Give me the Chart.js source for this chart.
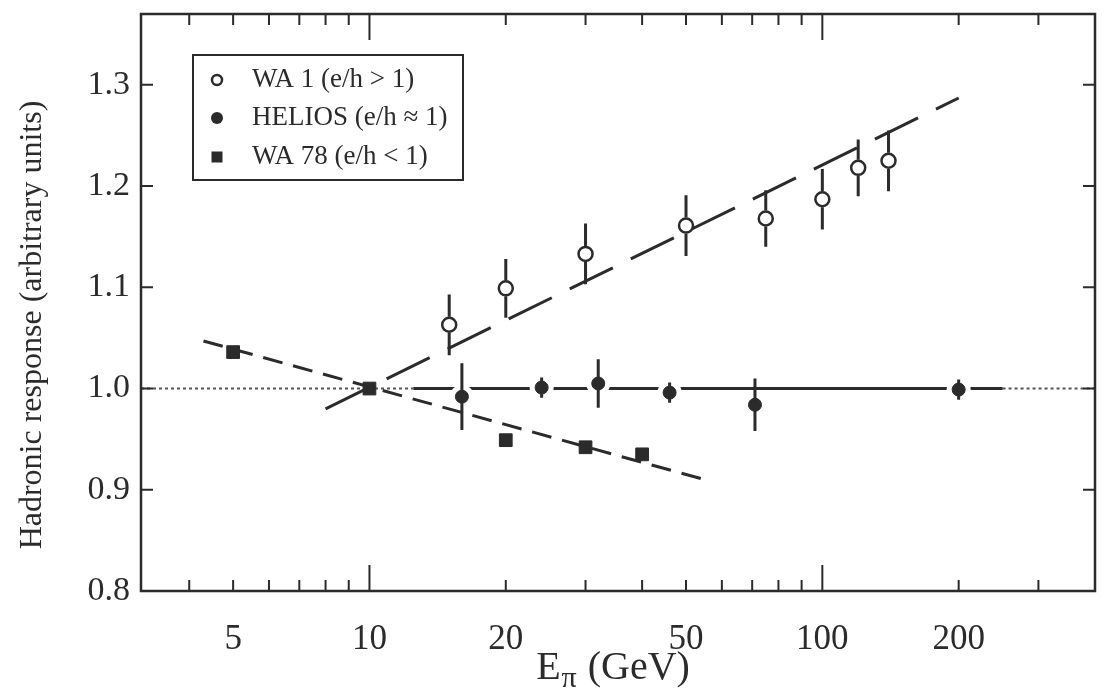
<!DOCTYPE html>
<html>
<head>
<meta charset="utf-8">
<title>Hadronic response vs pion energy</title>
<script src="https://cdn.jsdelivr.net/npm/chart.js@4.4.1/dist/chart.umd.min.js"></script>
<style>
  html, body { margin: 0; padding: 0; background: #fff; }
  #wrap { width: 1107px; height: 688px; }
</style>
</head>
<body>
<div id="wrap"><canvas id="responseChart" width="1107" height="688"></canvas></div>
<script>
// WA 1 (e/h > 1) - open circles
const wa1Energy = [15, 20, 30, 50, 75, 100, 120, 140];
const wa1Response = [1.063, 1.099, 1.133, 1.161, 1.168, 1.187, 1.218, 1.225];
const wa1Error = [0.03, 0.029, 0.03, 0.03, 0.028, 0.03, 0.028, 0.03];

// HELIOS (e/h ~ 1) - filled circles
const heliosEnergy = [16, 24, 32, 46, 71, 200];
const heliosResponse = [0.992, 1.001, 1.005, 0.996, 0.984, 0.999];
const heliosError = [0.033, 0.01, 0.024, 0.01, 0.026, 0.01];

// WA 78 (e/h < 1) - filled squares
const wa78Energy = [5, 10, 20, 30, 40];
const wa78Response = [1.036, 1.0, 0.949, 0.942, 0.935];

// fitted lines, end points
const wa1FitEnergy = [8, 200];
const wa1FitResponse = [0.98, 1.287];
const wa78FitEnergy = [4.3, 55];
const wa78FitResponse = [1.047, 0.91];
const heliosFitEnergy = [12.5, 250];
const heliosFitResponse = [1.0, 1.0];

// e/h = 1 reference (dotted outside the HELIOS fit)
const refEnergy = [3.13, 12.5, 50, 250, 400];
const refResponse = [1, 1, null, 1, 1];

// axes
const xTickValues = [5, 10, 20, 50, 100, 200];
const xFrameTicks = [4, 5, 6, 7, 8, 9, 10, 20, 30, 40, 50, 60, 70, 80, 90, 100, 200, 300];
const xLongTicks = [10, 100];
const yTickValues = [0.8, 0.9, 1.0, 1.1, 1.2, 1.3];

const legendLabels = ["WA 1 (e/h > 1)", "HELIOS (e/h \u2248 1)", "WA 78 (e/h < 1)"];
const xTitle = ["E", "\u03c0", " (GeV)"];
const yTitle = "Hadronic response (arbitrary units)";

const ink = "#2b2b2b";
const serif = "'Liberation Serif', 'DejaVu Serif', serif";

function toPoints(xs, ys) {
  return xs.map((x, i) => ({ x, y: ys[i] }));
}

// error bars, drawn outside the marker so open circles stay open
const errorBars = {
  id: "errorBars",
  afterDatasetsDraw(chart) {
    const { ctx, scales: { x, y } } = chart;
    ctx.save();
    ctx.strokeStyle = ink;
    ctx.lineWidth = 3;
    chart.data.datasets.forEach(ds => {
      if (!ds.errors) return;
      const gap = ds.errorGap || 0;
      ds.data.forEach((p, i) => {
        const px = x.getPixelForValue(p.x);
        const py = y.getPixelForValue(p.y);
        const top = y.getPixelForValue(p.y + ds.errors[i]);
        const bot = y.getPixelForValue(p.y - ds.errors[i]);
        ctx.beginPath();
        ctx.moveTo(px, top);
        ctx.lineTo(px, py - gap);
        ctx.moveTo(px, py + gap);
        ctx.lineTo(px, bot);
        ctx.stroke();
      });
    });
    ctx.restore();
  }
};

// box frame with inward ticks on all four sides
const frame = {
  id: "frame",
  afterDraw(chart) {
    const { ctx, chartArea: a, scales: { x, y } } = chart;
    ctx.save();
    ctx.strokeStyle = ink;
    ctx.lineWidth = 2.5;
    ctx.strokeRect(a.left, a.top, a.right - a.left, a.bottom - a.top);
    ctx.lineWidth = 2;
    ctx.beginPath();
    xFrameTicks.forEach(v => {
      const px = x.getPixelForValue(v);
      const len = xLongTicks.includes(v) ? 26 : 11;
      ctx.moveTo(px, a.bottom);
      ctx.lineTo(px, a.bottom - len);
      ctx.moveTo(px, a.top);
      ctx.lineTo(px, a.top + len);
    });
    yTickValues.forEach(v => {
      const py = y.getPixelForValue(v);
      ctx.moveTo(a.left, py);
      ctx.lineTo(a.left + 12, py);
      ctx.moveTo(a.right, py);
      ctx.lineTo(a.right - 12, py);
    });
    ctx.stroke();
    ctx.restore();
  }
};

// legend box in the upper left of the plot
const boxLegend = {
  id: "boxLegend",
  afterDraw(chart) {
    const { ctx, chartArea: a } = chart;
    const left = a.left + 52, top = a.top + 41, w = 270, h = 125;
    ctx.save();
    ctx.strokeStyle = ink;
    ctx.lineWidth = 2;
    ctx.fillStyle = "#fff";
    ctx.fillRect(left, top, w, h);
    ctx.strokeRect(left, top, w, h);
    ctx.font = "27px " + serif;
    ctx.textBaseline = "middle";
    const rows = [top + 25, top + 63, top + 102];
    const mx = left + 24;
    // open circle
    ctx.lineWidth = 2.5;
    ctx.beginPath();
    ctx.arc(mx, rows[0], 5, 0, Math.PI * 2);
    ctx.stroke();
    // filled circle
    ctx.fillStyle = ink;
    ctx.beginPath();
    ctx.arc(mx, rows[1], 6, 0, Math.PI * 2);
    ctx.fill();
    // filled square
    ctx.fillRect(mx - 5.5, rows[2] - 5.5, 11, 11);
    legendLabels.forEach((t, i) => ctx.fillText(t, left + 59, rows[i]));
    ctx.restore();
  }
};

// axis titles (x title has a subscript pi)
const axisTitles = {
  id: "axisTitles",
  afterDraw(chart) {
    const { ctx, chartArea: a } = chart;
    ctx.save();
    ctx.fillStyle = ink;
    ctx.textBaseline = "alphabetic";
    const big = "40px " + serif, small = "30px " + serif;
    ctx.font = big;
    const wE = ctx.measureText(xTitle[0]).width;
    const wG = ctx.measureText(xTitle[2]).width;
    ctx.font = small;
    const wP = ctx.measureText(xTitle[1]).width;
    let sx = (a.left + a.right) / 2 - 6 - (wE + wP + wG) / 2;
    const base = 679;
    ctx.font = big;
    ctx.fillText(xTitle[0], sx, base);
    ctx.font = small;
    ctx.fillText(xTitle[1], sx + wE + 1, base + 8);
    ctx.font = big;
    ctx.fillText(xTitle[2], sx + wE + wP + 2, base);

    ctx.translate(33, 325);
    ctx.rotate(-Math.PI / 2);
    ctx.font = "32px " + serif;
    ctx.textAlign = "center";
    ctx.textBaseline = "middle";
    ctx.fillText(yTitle, 0, 0);
    ctx.restore();
  }
};

new Chart(document.getElementById("responseChart"), {
  type: "line",
  data: {
    datasets: [
      {
        label: "WA 1",
        data: toPoints(wa1Energy, wa1Response),
        errors: wa1Error,
        errorGap: 8,
        showLine: false,
        pointStyle: "circle",
        pointRadius: 7,
        pointBackgroundColor: "#fff",
        pointBorderColor: ink,
        pointBorderWidth: 2.5,
        order: 0
      },
      {
        label: "HELIOS",
        data: toPoints(heliosEnergy, heliosResponse),
        errors: heliosError,
        showLine: false,
        pointStyle: "circle",
        pointRadius: 6.5,
        pointBackgroundColor: ink,
        pointBorderColor: ink,
        pointBorderWidth: 1,
        order: 0
      },
      {
        label: "WA 78",
        data: toPoints(wa78Energy, wa78Response),
        showLine: false,
        pointStyle: "rect",
        pointRadius: 9,
        pointBackgroundColor: ink,
        pointBorderColor: ink,
        pointBorderWidth: 1,
        order: 0
      },
      {
        label: "HELIOS gap",
        data: toPoints(heliosEnergy, heliosResponse),
        showLine: false,
        pointRadius: 12,
        pointBackgroundColor: "#fff",
        pointBorderWidth: 0,
        order: 1
      },
      {
        label: "WA 1 fit",
        data: toPoints(wa1FitEnergy, wa1FitResponse),
        borderColor: ink,
        borderWidth: 3,
        borderDash: [48, 20],
        pointRadius: 0,
        order: 2
      },
      {
        label: "WA 78 fit",
        data: toPoints(wa78FitEnergy, wa78FitResponse),
        borderColor: ink,
        borderWidth: 3,
        borderDash: [20, 11],
        pointRadius: 0,
        order: 2
      },
      {
        label: "HELIOS fit",
        data: toPoints(heliosFitEnergy, heliosFitResponse),
        borderColor: ink,
        borderWidth: 3,
        pointRadius: 0,
        order: 3
      },
      {
        label: "e/h = 1",
        data: toPoints(refEnergy, refResponse),
        borderColor: "#555",
        borderWidth: 2,
        borderDash: [3, 3],
        pointRadius: 0,
        spanGaps: false,
        order: 4
      }
    ]
  },
  options: {
    responsive: false,
    animation: false,
    events: [],
    layout: { padding: { left: 0, right: 5, top: 14, bottom: 0 } },
    plugins: {
      legend: { display: false },
      tooltip: { enabled: false }
    },
    scales: {
      x: {
        type: "logarithmic",
        min: 3.13,
        max: 400,
        grid: { display: false },
        border: { display: false },
        afterBuildTicks: s => { s.ticks = xTickValues.map(v => ({ value: v })); },
        afterFit: s => { s.height = 97; s.paddingLeft = 0; s.paddingRight = 0; },
        ticks: {
          color: ink,
          font: { family: serif, size: 35 },
          padding: 20,
          autoSkip: false,
          maxRotation: 0,
          callback: v => String(v)
        }
      },
      y: {
        min: 0.8,
        max: 1.37,
        grid: { display: false },
        border: { display: false },
        afterBuildTicks: s => { s.ticks = yTickValues.map(v => ({ value: v })); },
        afterFit: s => { s.width = 141; s.paddingTop = 0; s.paddingBottom = 0; },
        ticks: {
          color: ink,
          font: { family: serif, size: 34 },
          padding: 3,
          callback: v => v.toFixed(1)
        }
      }
    }
  },
  plugins: [errorBars, frame, boxLegend, axisTitles]
});
</script>
</body>
</html>
